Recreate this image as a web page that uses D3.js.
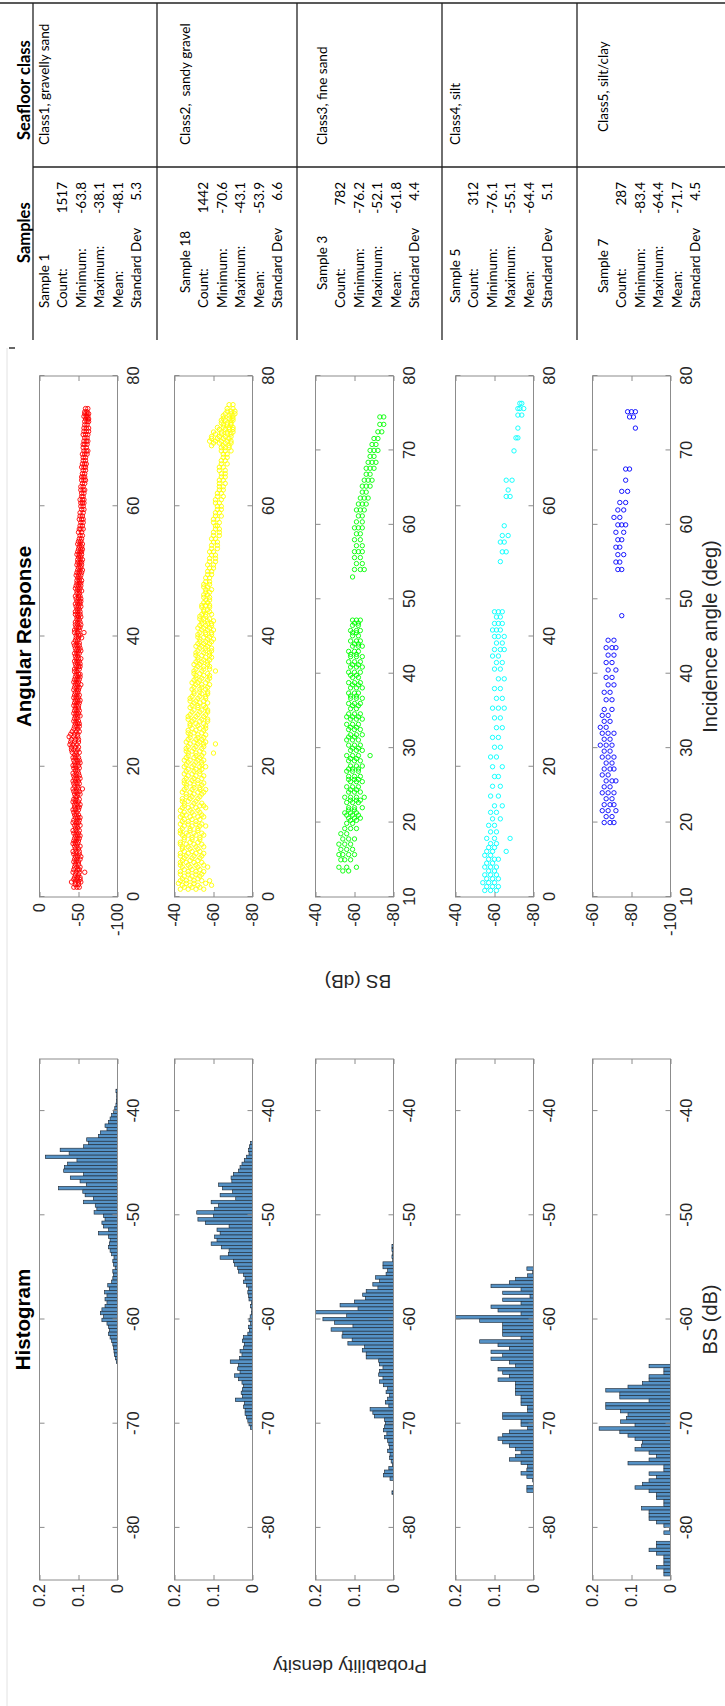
<!DOCTYPE html>
<html><head><meta charset="utf-8">
<script src="https://cdn.jsdelivr.net/npm/d3@7"></script>
<style>body{margin:0;background:#fff}</style>
</head><body><svg id="c" width="725" height="1706"></svg>
<script>
// ---------------- DATA ----------------
const sampleNames = ["Sample 1","Sample 18","Sample 3","Sample 5","Sample 7"];
const classNames = ["Class1, gravelly sand","Class2,  sandy gravel","Class3, fine sand","Class4, silt","Class5, silt/clay"];
const statLabels = ["Count:","Minimum:","Maximum:","Mean:","Standard Dev"];
const counts = ["1517","1442","782","312","287"];
const minimums = ["-63.8","-70.6","-76.2","-76.1","-83.4"];
const maximums = ["-38.1","-43.1","-52.1","-55.1","-64.4"];
const means = ["-48.1","-53.9","-61.8","-64.4","-71.7"];
const stdDevs = ["5.3","6.6","4.4","5.1","4.5"];

const scatterColors = ["#ff0000","#ffff00","#00ff00","#00ffff","#0000ff"];
const scatterXDomains = [[0,80],[0,80],[10,80],[0,80],[10,80]];
const scatterYDomains = [[-100,0],[-80,-40],[-80,-40],[-80,-40],[-100,-60]];
const scatterXTicks = [[0,20,40,60,80],[0,20,40,60,80],[10,20,30,40,50,60,70,80],[0,20,40,60,80],[10,20,30,40,50,60,70,80]];
const scatterYTicks = [[-100,-50,0],[-80,-60,-40],[-80,-60,-40],[-80,-60,-40],[-100,-80,-60]];
const histXDomain = [-85,-35];
const histYDomain = [0,0.2];
const histXTicks = [-80,-70,-60,-50,-40];
const histYTicks = [0,0.1,0.2];

// angular response: [incidence angle, [BS values at that angle]]
const scatter1 = [[1.5,[-44,-48,-51]],[2.3,[-46,-50,-53,-41]],[3.0,[-45,-49,-52]],[3.8,[-43,-47,-51,-58]],[4.6,[-45,-48,-52]],[5.4,[-44,-47,-50]],[6.2,[-46,-49,-53]],[7.0,[-43,-47,-51]],[7.8,[-45,-48,-52]],[8.6,[-44,-47,-50]],[9.4,[-46,-49,-52]],[10.2,[-43,-47,-51]],[11.0,[-45,-48,-52]],[11.8,[-44,-48,-51]],[12.6,[-45,-47,-50]],[13.4,[-43,-46,-50]],[14.2,[-45,-48,-52]],[15.0,[-44,-47,-51]],[15.8,[-45,-49,-52]],[16.6,[-43,-47,-50,-55]],[17.4,[-44,-48,-51]],[18.2,[-45,-48,-52]],[19.0,[-43,-47,-50]],[19.8,[-44,-47,-51]],[20.6,[-45,-49,-52]],[21.4,[-43,-46,-50]],[22.2,[-42,-47,-51]],[23.0,[-41,-46,-50]],[23.8,[-40,-45,-50]],[24.6,[-38,-44,-49]],[25.4,[-42,-47,-51]],[26.2,[-45,-48,-51]],[27.0,[-44,-47,-50]],[27.8,[-46,-49,-52]],[28.6,[-45,-48,-51]],[29.4,[-44,-47,-50]],[30.2,[-46,-49,-52]],[31.0,[-45,-48,-51]],[31.8,[-44,-48,-50]],[32.6,[-46,-49,-53]],[33.4,[-45,-48,-51]],[34.2,[-47,-50,-52]],[35.0,[-45,-48,-51]],[35.8,[-46,-49,-52]],[36.6,[-47,-50,-53]],[37.4,[-45,-48,-51]],[38.2,[-46,-49,-52]],[39.0,[-44,-48,-51]],[39.8,[-47,-50,-54]],[40.6,[-45,-49,-57]],[41.4,[-47,-50,-52]],[42.2,[-46,-49,-52]],[43.0,[-48,-50,-53]],[43.8,[-46,-49,-52]],[44.6,[-47,-50,-53]],[45.4,[-48,-51,-53]],[46.2,[-46,-50,-52]],[47.0,[-48,-51,-54]],[47.8,[-47,-50,-53]],[48.6,[-48,-51,-54]],[49.4,[-47,-50,-53]],[50.2,[-49,-52,-55]],[51.0,[-48,-51,-54]],[51.8,[-49,-52,-55]],[52.6,[-48,-51,-54]],[53.4,[-50,-53,-55]],[54.2,[-49,-52,-55]],[55.0,[-51,-54]],[56.0,[-50,-54]],[57.0,[-52,-55]],[58.0,[-51,-54,-56]],[59.0,[-52,-56]],[60.0,[-53,-56]],[61.0,[-52,-55,-57]],[62.0,[-54,-57]],[63.0,[-53,-56]],[64.0,[-54,-57,-59]],[65.0,[-55,-58]],[66.0,[-54,-57,-59]],[67.0,[-56,-59]],[68.0,[-55,-58,-61]],[69.0,[-56,-60]],[70.0,[-57,-60,-62]],[71.0,[-56,-59,-62]],[72.0,[-57,-60,-63]],[73.0,[-58,-61,-63]],[73.8,[-57,-60,-62]],[74.5,[-58,-61]],[75.0,[-59,-62]],
 [1.9,[-46,-50]],[2.7,[-44,-47,-52]],[3.4,[-46,-50]],[4.2,[-44,-49,-51]],[5.0,[-46,-50]],[5.8,[-45,-48,-52]],[6.6,[-44,-47,-51]],[7.4,[-46,-50]],[8.2,[-43,-46,-49]],[9.0,[-45,-48,-51]],[9.8,[-44,-47,-50]],[10.6,[-46,-49]],[11.4,[-43,-47,-50]],[12.2,[-46,-49,-52]],[13.0,[-44,-48]],[13.8,[-45,-49,-51]],[14.6,[-43,-46,-50]],[15.4,[-46,-48]],[16.2,[-44,-47,-51]],[17.0,[-45,-49]],[17.8,[-43,-46,-50]],[18.6,[-44,-47,-51]],[19.4,[-46,-49]],[20.2,[-43,-46,-50]],[21.0,[-44,-48,-51]],[21.8,[-45,-48]],[22.6,[-41,-44,-49]],[23.4,[-39,-43,-48]],[24.2,[-41,-46,-50]],[25.0,[-40,-45,-49]],[25.8,[-44,-49]],[26.6,[-46,-49,-51]],[27.4,[-45,-48]],[28.2,[-44,-47,-50]],[29.0,[-46,-50]],[29.8,[-45,-48,-51]],[30.6,[-44,-47,-50]],[31.4,[-46,-49]],[32.2,[-45,-48,-51]],[33.0,[-44,-47,-50]],[33.8,[-46,-49,-52]],[34.6,[-45,-48]],[35.4,[-47,-50,-52]],[36.2,[-45,-48,-51]],[37.0,[-46,-49]],[37.8,[-47,-50,-53]],[38.6,[-45,-48,-51]],[39.4,[-46,-49]],[40.2,[-47,-50,-52]],[41.0,[-45,-48,-51]],[41.8,[-46,-49,-53]],[42.6,[-48,-51]],[43.4,[-46,-49,-52]],[44.2,[-48,-51]],[45.0,[-46,-49,-52]],[45.8,[-47,-50,-53]],[46.6,[-48,-51]],[47.4,[-46,-49,-52]],[48.2,[-48,-51,-53]],[49.0,[-49,-52]],[49.8,[-48,-51,-54]],[50.6,[-50,-53]],[51.4,[-49,-52,-54]],[52.2,[-50,-53]],[53.0,[-49,-52,-54]],[53.8,[-51,-54]],[54.6,[-50,-53]],[55.5,[-52,-55]],[56.5,[-51,-53,-56]],[57.5,[-53,-56]],[58.5,[-52,-55]],[59.5,[-54,-57]],[60.5,[-53,-55,-57]],[61.5,[-54,-56]],[62.5,[-53,-56,-58]],[63.5,[-55,-58]],[64.5,[-54,-56,-58]],[65.5,[-56,-59]],[66.5,[-55,-58,-60]],[67.5,[-56,-59]],[68.5,[-57,-60,-62]],[69.5,[-56,-58,-61]],[70.5,[-58,-61]],[71.5,[-57,-60,-63]],[72.5,[-58,-61]],[73.4,[-59,-62,-63]],[74.2,[-58,-61,-63]]];
const scatter2 = [[1.2,[-43,-47,-51,-55]],[1.8,[-44,-48,-52,-59]],[2.5,[-43,-46,-50,-54,-58]],[3.2,[-45,-49,-53]],[3.9,[-43,-47,-51,-55]],[4.6,[-44,-48,-52,-57]],[5.3,[-43,-46,-50,-54]],[6.0,[-45,-49,-53]],[6.7,[-43,-47,-51,-55]],[7.4,[-44,-48,-52]],[8.1,[-43,-46,-50,-54]],[8.8,[-45,-49,-53]],[9.5,[-44,-47,-51,-55]],[10.2,[-43,-48,-52]],[10.9,[-45,-49,-53,-56]],[11.6,[-44,-47,-51]],[12.3,[-43,-48,-52,-55]],[13.0,[-45,-49,-53]],[13.7,[-44,-47,-51,-56]],[14.4,[-45,-50,-54]],[15.1,[-44,-48,-52]],[15.8,[-46,-50,-54]],[16.5,[-45,-49,-53,-56]],[17.2,[-46,-50,-54]],[17.9,[-45,-49,-52]],[18.6,[-47,-51,-55]],[19.3,[-46,-50,-53]],[20.0,[-45,-49,-53,-56]],[20.7,[-47,-51,-54]],[21.4,[-46,-50,-53]],[22.1,[-47,-51,-55,-60]],[22.8,[-46,-50,-54]],[23.5,[-48,-52,-55,-61]],[24.2,[-47,-51,-54]],[24.9,[-48,-52,-56]],[25.6,[-47,-51,-55]],[26.3,[-48,-52,-56]],[27.0,[-49,-53,-57]],[27.7,[-47,-51,-55]],[28.4,[-49,-53,-57]],[29.1,[-48,-52,-56]],[29.8,[-50,-53,-57]],[30.5,[-48,-52,-56]],[31.2,[-50,-54,-57]],[31.9,[-49,-53,-56]],[32.6,[-51,-54,-58]],[33.3,[-50,-53,-57]],[34.0,[-51,-55,-58]],[34.7,[-50,-54,-61]],[35.4,[-52,-55,-58]],[36.1,[-51,-54,-57]],[36.8,[-52,-56,-59]],[37.5,[-51,-55,-58]],[38.2,[-53,-56,-59]],[38.9,[-52,-55,-58]],[39.6,[-53,-57,-60]],[40.3,[-52,-56,-59]],[41.0,[-54,-57,-60]],[41.7,[-53,-56,-59]],[42.4,[-54,-57,-60]],[43.1,[-53,-56]],[43.8,[-55,-58]],[44.5,[-54,-58]],[45.2,[-55,-57]],[46.0,[-55,-58]],[46.8,[-56,-58]],[47.6,[-55,-57]],[48.4,[-56,-58]],[49.5,[-57,-59]],[50.5,[-58,-60]],[51.5,[-58,-61]],[52.5,[-59,-61]],[53.5,[-59,-62]],[54.5,[-60,-62]],[55.5,[-60,-63]],[56.5,[-61,-63]],[57.5,[-60,-63]],[58.5,[-61,-64]],[59.5,[-62,-64]],[60.5,[-61,-63]],[61.5,[-62,-65]],[62.5,[-63,-65]],[63.5,[-63,-66]],[64.5,[-64,-66]],[65.5,[-63,-66]],[66.5,[-64,-67]],[67.5,[-65,-67]],[68.5,[-64,-66,-69]],[69.3,[-59,-65,-68]],[70.0,[-58,-61,-64,-67,-69]],[70.7,[-59,-63,-66,-69]],[71.4,[-60,-64,-67,-70]],[72.1,[-62,-65,-68,-70]],[72.8,[-64,-67,-69]],[73.5,[-65,-68,-70]],[74.2,[-66,-69,-71]],[75.0,[-67,-70]],[75.6,[-68,-70]],
 [1.5,[-45,-49,-53]],[2.1,[-42,-46,-50,-56]],[2.8,[-44,-48,-52]],[3.5,[-43,-47,-51,-54]],[4.2,[-45,-49,-53]],[4.9,[-43,-47,-51,-55]],[5.6,[-44,-48,-52]],[6.3,[-43,-46,-50,-54]],[7.0,[-45,-49,-53]],[7.7,[-44,-47,-51,-55]],[8.4,[-43,-48,-52]],[9.1,[-45,-49,-53]],[9.8,[-43,-46,-50,-54]],[10.5,[-44,-48,-52]],[11.2,[-43,-47,-51,-54]],[11.9,[-45,-49,-53]],[12.6,[-44,-46,-50,-54]],[13.3,[-43,-48,-52]],[14.0,[-45,-49,-53,-55]],[14.7,[-44,-47,-51]],[15.4,[-46,-49,-53]],[16.1,[-44,-48,-52,-55]],[16.8,[-46,-50,-53]],[17.5,[-45,-48,-52,-55]],[18.2,[-46,-50,-54]],[18.9,[-45,-49,-53]],[19.6,[-47,-51,-54]],[20.3,[-46,-50,-54]],[21.0,[-45,-48,-52,-55]],[21.7,[-47,-51,-54]],[22.4,[-46,-49,-53]],[23.1,[-47,-51,-55]],[23.8,[-46,-50,-53,-56]],[24.5,[-48,-52,-55]],[25.2,[-47,-50,-54]],[25.9,[-49,-53,-56]],[26.6,[-48,-51,-55]],[27.3,[-47,-50,-54,-57]],[28.0,[-48,-52,-56]],[28.7,[-50,-54,-57]],[29.4,[-49,-52,-55]],[30.1,[-48,-51,-55]],[30.8,[-49,-53,-56]],[31.5,[-50,-53,-57]],[32.2,[-50,-54,-57]],[32.9,[-49,-52,-56]],[33.6,[-51,-54,-58]],[34.3,[-50,-53,-57]],[35.0,[-51,-55,-58]],[35.7,[-50,-53,-57]],[36.4,[-52,-55,-58]],[37.1,[-51,-54,-58]],[37.8,[-52,-56,-59]],[38.5,[-51,-54,-57]],[39.2,[-53,-56,-59]],[39.9,[-52,-55,-58]],[40.6,[-53,-56,-59]],[41.3,[-52,-55,-58]],[42.0,[-54,-57,-59]],[42.7,[-53,-55,-58]],[43.4,[-54,-56,-59]],[44.1,[-55,-57]],[44.8,[-54,-56,-58]],[45.6,[-56,-58]],[46.4,[-55,-57]],[47.2,[-56,-59]],[48.0,[-55,-58]],[49.0,[-56,-58]],[50.0,[-57,-59]],[51.0,[-57,-60]],[52.0,[-58,-61]],[53.0,[-58,-60]],[54.0,[-59,-62]],[55.0,[-59,-61]],[56.0,[-60,-63]],[57.0,[-61,-62]],[58.0,[-60,-62]],[59.0,[-61,-63]],[60.0,[-62,-64]],[61.0,[-61,-64]],[62.0,[-62,-64]],[63.0,[-63,-65]],[64.0,[-63,-65]],[65.0,[-64,-66]],[66.0,[-63,-65]],[67.0,[-64,-66]],[68.0,[-65,-67]],[69.0,[-64,-66,-68]],[69.7,[-60,-63,-66,-69]],[70.4,[-59,-62,-65,-68]],[71.1,[-61,-64,-67,-69]],[71.8,[-63,-66,-68,-70]],[72.5,[-65,-67,-69]],[73.2,[-64,-66,-69,-70]],[73.9,[-65,-68,-70]],[74.6,[-67,-69,-71]]];
const scatter3 = [[13.5,[-54,-57]],[14.0,[-52,-56,-61]],[15.0,[-53,-55,-58]],[15.7,[-52,-54,-57,-60]],[16.4,[-53,-56,-59]],[17.1,[-52,-55,-58]],[17.8,[-54,-57,-60]],[18.5,[-53,-56]],[19.2,[-55,-58,-61]],[19.9,[-56,-59]],[20.6,[-57,-60,-63]],[21.3,[-55,-58,-61]],[22.0,[-57,-60,-64]],[22.7,[-56,-59,-62]],[23.4,[-55,-58,-61,-65]],[24.1,[-57,-60,-63]],[24.8,[-56,-59,-62]],[25.5,[-58,-61,-64]],[26.2,[-57,-60,-63]],[26.9,[-56,-59,-62]],[27.6,[-58,-61,-64]],[28.3,[-57,-60,-63]],[29.0,[-56,-59,-62,-68]],[29.7,[-58,-61,-64]],[30.4,[-57,-60,-63]],[31.1,[-56,-59,-62]],[31.8,[-58,-61,-64]],[32.5,[-57,-60,-63]],[33.2,[-56,-59,-62]],[33.9,[-58,-61,-64]],[34.6,[-57,-60,-63]],[35.3,[-58,-61]],[36.0,[-57,-60,-63]],[36.7,[-58,-61,-64]],[37.4,[-57,-60,-62]],[38.1,[-58,-61,-64]],[38.8,[-57,-60,-63]],[39.5,[-59,-62]],[40.2,[-57,-60,-63]],[40.9,[-58,-61,-64]],[41.6,[-57,-60,-63]],[42.3,[-58,-61,-64]],[43.0,[-57,-60,-62]],[43.7,[-59,-62,-64]],[44.4,[-58,-61,-63]],[45.1,[-59,-62]],[45.8,[-58,-61,-63]],[46.5,[-59,-62]],[47.2,[-59,-61,-63]],[53.0,[-59]],[54.0,[-60,-63,-65]],[54.8,[-61,-64]],[55.6,[-60,-63]],[56.4,[-60,-62,-64]],[57.2,[-61,-64]],[58.0,[-60,-63]],[58.8,[-61,-63]],[59.6,[-60,-62,-64]],[60.4,[-61,-64]],[61.2,[-62,-64]],[62.0,[-61,-63,-65]],[62.8,[-62,-64,-66]],[63.6,[-63,-65,-67]],[64.4,[-64,-66]],[65.2,[-64,-66,-68]],[66.0,[-65,-67,-69]],[66.8,[-66,-68]],[67.6,[-66,-68,-70]],[68.4,[-67,-69,-71]],[69.2,[-68,-70]],[70.0,[-68,-70,-72]],[70.8,[-69,-71]],[71.6,[-70,-72]],[72.5,[-72,-74]],[73.5,[-73,-75]],[74.5,[-73,-75]],
 [20.3,[-58,-61]],[21.0,[-56,-59,-62]],[21.7,[-57,-60]],[23.0,[-58,-61,-63]],[24.4,[-58,-61]],[25.8,[-57,-60,-62]],[27.2,[-57,-59,-62]],[28.6,[-58,-61]],[30.0,[-59,-62]],[31.5,[-57,-60]],[32.8,[-58,-61]],[34.2,[-56,-59,-62]],[35.7,[-59,-62]],[37.0,[-58,-61]],[38.5,[-59,-62]],[39.8,[-58,-61]],[41.2,[-59,-62]],[42.6,[-58,-61]],[44.0,[-60,-62]],[45.5,[-59,-61]],[46.8,[-60,-62]]];
const scatter4 = [[1.0,[-55,-58,-61]],[1.6,[-56,-59,-62]],[2.2,[-54,-57,-60]],[2.8,[-56,-59,-62]],[3.4,[-55,-58,-61]],[4.0,[-57,-60]],[4.6,[-55,-58,-61]],[5.2,[-56,-59]],[5.8,[-57,-60,-62]],[6.4,[-55,-58]],[7.0,[-56,-59,-66]],[7.6,[-57,-60]],[8.2,[-58,-61]],[9.0,[-56,-60,-68]],[10.0,[-58,-61]],[11.0,[-57,-60]],[12.0,[-59,-63]],[13.0,[-58,-61]],[14.0,[-60,-64]],[15.5,[-58,-62]],[17.0,[-59,-63]],[18.5,[-60,-62]],[20.0,[-59,-64]],[21.5,[-58,-61]],[23.0,[-60,-63]],[24.5,[-59,-62]],[26.0,[-61,-64]],[27.5,[-60,-63]],[29.0,[-59,-62,-65]],[30.5,[-61,-64]],[32.0,[-60,-63]],[33.5,[-62,-65]],[35.0,[-60,-63]],[36.0,[-61,-64]],[37.0,[-59,-62]],[38.0,[-60,-63,-65]],[39.0,[-61,-64]],[40.0,[-60,-62,-65]],[41.0,[-59,-61,-63]],[42.0,[-60,-62,-64]],[43.0,[-61,-63]],[43.8,[-60,-62,-64]],[51.5,[-63]],[53.0,[-64,-66]],[54.5,[-63,-65]],[55.5,[-64,-67]],[57.0,[-65]],[61.5,[-66,-68]],[62.5,[-67]],[64.0,[-66,-69]],[68.5,[-70]],[70.5,[-71,-72]],[72.0,[-72]],[74.0,[-72,-74]],[75.0,[-72,-73,-75]],[75.8,[-73,-74]]];
const scatter5 = [[20.0,[-66,-69,-71]],[20.8,[-67,-70]],[21.6,[-65,-68,-72]],[22.4,[-66,-69,-71]],[23.2,[-67,-70]],[24.0,[-65,-68,-71]],[24.8,[-66,-69]],[25.6,[-67,-70,-72]],[26.4,[-65,-68]],[27.2,[-66,-69,-71]],[28.0,[-67,-70]],[28.8,[-65,-68,-71]],[29.6,[-66,-69]],[30.4,[-64,-67,-70]],[31.2,[-66,-69]],[32.0,[-65,-68,-71]],[32.8,[-64,-67]],[33.6,[-66,-69]],[34.4,[-65,-68]],[35.2,[-66,-70]],[36.5,[-67,-70]],[37.5,[-66,-69]],[38.5,[-68,-71]],[39.5,[-67,-70]],[40.5,[-68,-72]],[41.5,[-67,-70]],[42.5,[-68,-71]],[43.5,[-67,-70,-72]],[44.5,[-68,-71]],[47.8,[-75]],[54.0,[-73,-75]],[55.0,[-72,-74]],[56.0,[-73,-76]],[57.0,[-72,-74]],[58.0,[-73,-75]],[59.0,[-72,-76]],[60.0,[-73,-75,-77]],[61.0,[-71,-74]],[62.0,[-73,-76]],[63.0,[-74,-77]],[64.5,[-75,-78]],[66.0,[-77]],[67.5,[-77,-79]],[73.0,[-82]],[74.5,[-79,-81]],[75.2,[-78,-80,-82]]];

// histogram probability densities, bins listed from the highest BS downward
const histUpperEdges = [-37.9,-42.9,-52.8,-54.95,-64.3];
const histBinWidth = 0.333;
const hist1 = [.004,.002,.002,.003,.004,.007,.010,.015,.019,.023,.032,.027,.044,.049,.079,.074,.087,.147,.124,.185,.104,.128,.136,.138,.087,.121,.096,.080,.151,.089,.083,.062,.087,.057,.053,.060,.036,.032,.040,.036,.023,.049,.023,.019,.021,.023,.019,.015,.009,.012,.010,.006,.012,.010,.012,.015,.025,.021,.033,.027,.032,.027,.032,.040,.044,.036,.040,.027,.023,.021,.023,.019,.015,.012,.010,.009,.008,.005,.003];
const hist2 = [.005,.008,.010,.009,.015,.021,.027,.032,.036,.049,.055,.053,.087,.077,.051,.083,.043,.106,.087,.097,.143,.100,.140,.121,.060,.091,.083,.097,.091,.106,.080,.060,.062,.083,.049,.046,.038,.036,.023,.019,.023,.015,.010,.012,.010,.009,.003,.005,.002,.003,.006,.009,.005,.010,.008,.012,.023,.026,.021,.023,.032,.027,.033,.057,.036,.038,.032,.046,.036,.027,.023,.026,.029,.026,.044,.021,.023,.019,.019,.015,.012,.009,.005];
const hist3 = [.004,.004,.002,.004,.002,.027,.027,.015,.019,.046,.036,.053,.040,.070,.079,.072,.100,.137,.091,.200,.120,.181,.151,.104,.160,.130,.132,.106,.117,.074,.080,.070,.070,.038,.036,.027,.036,.038,.027,.036,.026,.015,.019,.010,.015,.021,.012,.060,.053,.049,.023,.021,.023,.026,.017,.023,.015,.012,.010,.015,.009,.010,.006,.003,.012,.023,.026,.009,0,0,0,.004];
const hist4 = [.017,.002,.015,.046,.062,.109,.032,.079,.009,.079,.032,.109,.091,.032,.200,.138,.079,.079,.079,.079,.032,.138,.091,.062,.109,.079,.109,.062,.046,.091,.079,.062,.091,.046,.046,.046,.046,.032,.032,.032,.015,.015,.079,.079,.032,.032,.015,.062,.079,.091,.079,.062,.046,.032,.046,.062,.032,.015,.017,.032,.017,.002,0,.017,.017];
const hist5 = [.055,.017,.017,.055,.055,.072,.109,.166,.130,.130,.055,.166,.166,.128,.109,.113,.128,.091,.183,.130,.109,.091,.072,.074,.091,.055,.036,.055,.109,.017,.017,.055,.036,.055,.072,.091,.055,.036,.036,.017,.017,.074,.055,.055,.055,.036,.017,.002,.017,0,0,.036,.036,.055,.036,.017,.017,.017,.036,.017,.017];

const scatters = [scatter1,scatter2,scatter3,scatter4,scatter5];
const hists = [hist1,hist2,hist3,hist4,hist5];

// ---------------- LAYOUT (figure drawn landscape, then rotated) ----------------
const svg = d3.select("#c");
svg.append("rect").attr("width",725).attr("height",1706).attr("fill","#fff");
const fig = svg.append("g").attr("transform","translate(0,1706) rotate(-90)");

const rowTop = [39.5,174.5,315.5,455.5,592.5];
const rowH = 78;
const scatRange = [809,1330];
const histRange = [126,647];
const axisColor = "#8c8c8c", labelColor = "#262626";
const tickFont = "'Liberation Sans', Arial, sans-serif";

function styleAxis(sel){
  sel.select(".domain").remove();
  sel.selectAll(".tick line").attr("stroke",axisColor);
  sel.selectAll(".tick text").attr("fill",labelColor).attr("font-size",16.5).attr("font-family",tickFont);
}

function drawPanel(r, xScale, yScale, xTicks, yTicks, yPad, fmtY){
  const top = rowTop[r], bot = rowTop[r]+rowH;
  const x0 = xScale.range()[0], x1 = xScale.range()[1];
  const g = fig.append("g");
  g.append("g").attr("transform",`translate(0,${bot})`)
    .call(d3.axisBottom(xScale).tickValues(xTicks).tickSize(-5).tickPadding(10).tickFormat(d=>String(d)))
    .call(styleAxis);
  g.append("g").attr("transform",`translate(0,${top})`)
    .call(d3.axisTop(xScale).tickValues(xTicks).tickSize(-5).tickFormat(""))
    .call(styleAxis);
  g.append("g").attr("transform",`translate(${x0},0)`)
    .call(d3.axisLeft(yScale).tickValues(yTicks).tickSize(-5).tickPadding(yPad).tickFormat(fmtY))
    .call(styleAxis);
  g.append("g").attr("transform",`translate(${x1},0)`)
    .call(d3.axisRight(yScale).tickValues(yTicks).tickSize(-5).tickFormat(""))
    .call(styleAxis);
  g.append("rect").attr("x",x0).attr("y",top).attr("width",x1-x0).attr("height",rowH)
    .attr("fill","none").attr("stroke",axisColor).attr("stroke-width",1);
  return g;
}

for (let r=0;r<5;r++){
  const top = rowTop[r], bot = rowTop[r]+rowH;
  // scatter
  const xs = d3.scaleLinear().domain(scatterXDomains[r]).range(scatRange);
  const ys = d3.scaleLinear().domain(scatterYDomains[r]).range([bot,top]);
  const pts = [];
  scatters[r].forEach(([a,vals])=>vals.forEach(v=>pts.push([a,v])));
  const gs = fig.append("g");
  gs.selectAll("circle").data(pts).join("circle")
    .attr("cx",d=>xs(d[0])).attr("cy",d=>ys(d[1])).attr("r",2.2)
    .attr("fill","none").attr("stroke",scatterColors[r]).attr("stroke-width",0.9);
  drawPanel(r, xs, ys, scatterXTicks[r], scatterYTicks[r], 6, d=>String(d));

  // histogram
  const xh = d3.scaleLinear().domain(histXDomain).range(histRange);
  const yh = d3.scaleLinear().domain(histYDomain).range([bot,top]);
  const bins = hists[r].map((v,i)=>({hi: histUpperEdges[r]-i*histBinWidth, lo: histUpperEdges[r]-(i+1)*histBinWidth, v}))
                       .filter(b=>b.v>0);
  fig.append("g").selectAll("rect").data(bins).join("rect")
    .attr("x",d=>xh(d.lo)).attr("width",d=>xh(d.hi)-xh(d.lo))
    .attr("y",d=>yh(d.v)).attr("height",d=>yh(0)-yh(d.v))
    .attr("fill","#5592c6").attr("stroke","#1f2b38").attr("stroke-width",0.65);
  drawPanel(r, xh, yh, histXTicks, histYTicks, 4, d=>String(d));
}

// titles and labels
const lab = (x,y,txt,size,weight)=>fig.append("text").attr("x",x).attr("y",y).attr("text-anchor","middle")
  .attr("font-family",tickFont).attr("font-size",size).attr("font-weight",weight||"normal").attr("fill","#000").text(txt);
lab((scatRange[0]+scatRange[1])/2, 31, "Angular Response", 20.5, "bold");
lab((histRange[0]+histRange[1])/2, 30, "Histogram", 20.5, "bold");
lab((scatRange[0]+scatRange[1])/2, 717, "Incidence angle (deg)", 20, "normal").attr("fill",labelColor);
lab((histRange[0]+histRange[1])/2, 717, "BS (dB)", 20, "normal").attr("fill",labelColor);
fig.append("text").attr("transform","translate(731,358) rotate(-90)").attr("text-anchor","middle")
  .attr("font-family",tickFont).attr("font-size",19).attr("fill",labelColor).text("BS (dB)");
fig.append("text").attr("transform","translate(46,350) rotate(-90)").attr("text-anchor","middle")
  .attr("font-family",tickFont).attr("font-size",19).attr("fill",labelColor).text("Probability density");

// faint page line and mark
fig.append("line").attr("x1",0).attr("x2",1358).attr("y1",7).attr("y2",7).attr("stroke","#e2e2e2").attr("stroke-width",1);
fig.append("line").attr("x1",1358).attr("x2",1358).attr("y1",9).attr("y2",15).attr("stroke","#333").attr("stroke-width",1.5);

// ---------------- TABLE ----------------
const tb = fig.append("g");
const lineC = "#222";
tb.append("line").attr("x1",1703).attr("x2",1703).attr("y1",0).attr("y2",725).attr("stroke",lineC).attr("stroke-width",1.3);
tb.append("line").attr("x1",1539).attr("x2",1539).attr("y1",33).attr("y2",725).attr("stroke",lineC).attr("stroke-width",1.3);
[33,157,297,442,577].forEach(y=>tb.append("line").attr("x1",1366).attr("x2",1703).attr("y1",y).attr("y2",y).attr("stroke",lineC).attr("stroke-width",1.3));
const tfont = "Lato, 'Open Sans', sans-serif";
tb.append("text").attr("x",1566).attr("y",30).attr("font-family",tfont).attr("font-weight","bold").attr("font-size",16.5).text("Seafloor class");
tb.append("text").attr("x",1443).attr("y",30).attr("font-family",tfont).attr("font-weight","bold").attr("font-size",16.5).text("Samples");
const firstLine = [44,185,322,455,603];
const sampleStart = [1398,1413,1416,1403,1413];
const classStart = [1561,1561,1561,1561,1574];
const spacing = 18.5;
for (let r=0;r<5;r++){
  const base = firstLine[r]+4.8;
  const t = (x,y,s,anchor)=>tb.append("text").attr("x",x).attr("y",y).attr("font-family",tfont).attr("font-size",13.5)
      .attr("text-anchor",anchor||"start").attr("fill","#000").text(s);
  t(classStart[r], base, classNames[r]).style("white-space","pre");
  t(sampleStart[r], base, sampleNames[r]);
  const vals = [counts[r],minimums[r],maximums[r],means[r],stdDevs[r]];
  statLabels.forEach((s,i)=>{
    t(1398, base+spacing*(i+1), s);
    t(1524, base+spacing*(i+1), vals[i], "end");
  });
}
</script></body></html>
